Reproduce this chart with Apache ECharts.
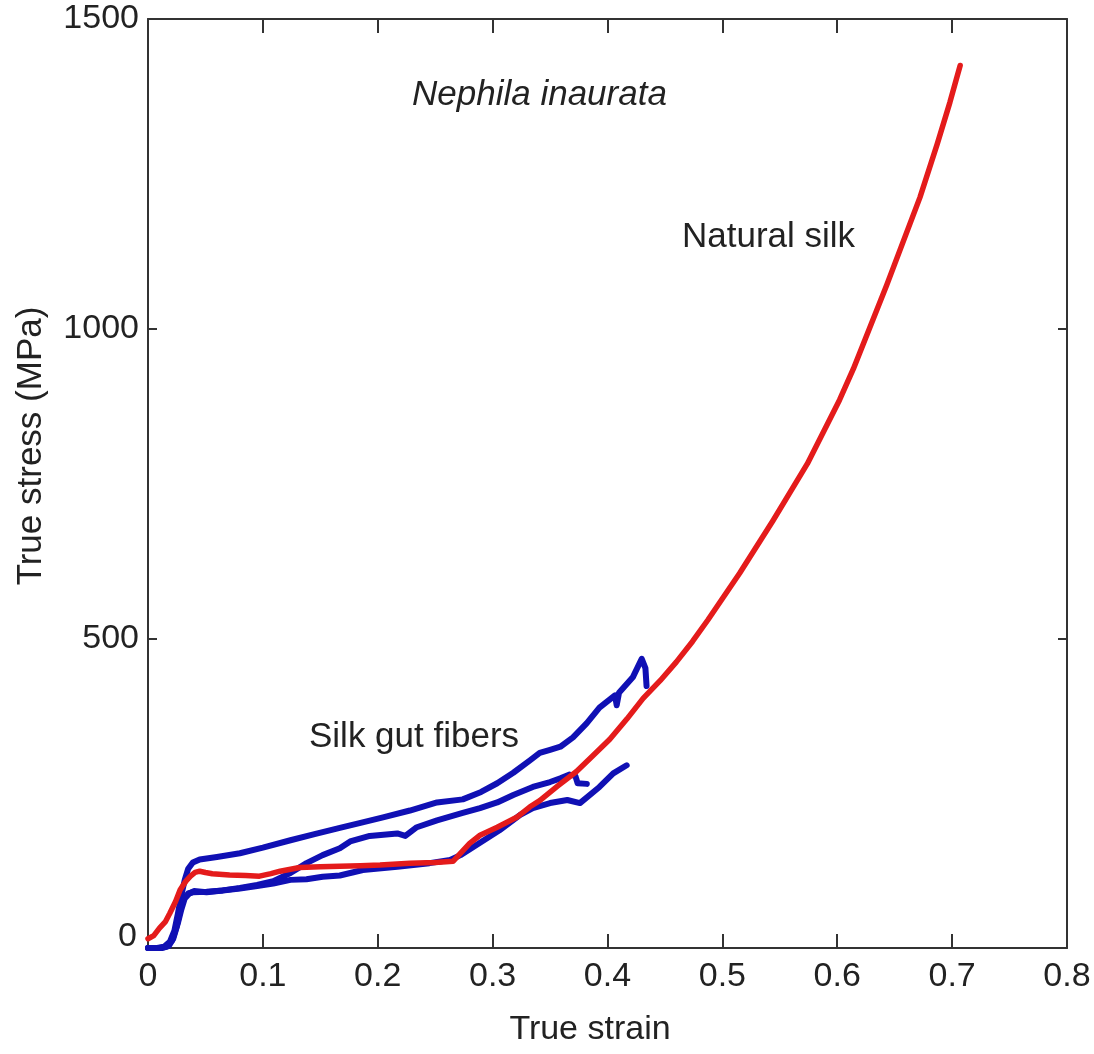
<!DOCTYPE html>
<html>
<head>
<meta charset="utf-8">
<title>True stress vs true strain – Nephila inaurata</title>
<script src="https://cdn.jsdelivr.net/npm/echarts@6/dist/echarts.min.js"></script>
<style>
  html, body { margin: 0; padding: 0; background: #ffffff; }
  #chart { width: 1094px; height: 1054px; }
</style>
</head>
<body>
<div id="chart"></div>
<script>
// Axis ticks
const strainTicks = [0, 0.1, 0.2, 0.3, 0.4, 0.5, 0.6, 0.7, 0.8];
const stressTicks = [0, 500, 1000, 1500];

// Natural (spun) silk: [true strain, true stress in MPa]
const naturalSilk = [
  [0, 15], [0.005, 20], [0.01, 32], [0.015, 42], [0.019, 56], [0.024, 75],
  [0.028, 94], [0.033, 108], [0.037, 116], [0.041, 122], [0.045, 124],
  [0.05, 122], [0.056, 120], [0.071, 118], [0.085, 117], [0.097, 116],
  [0.107, 120], [0.115, 124], [0.132, 130], [0.15, 131], [0.167, 132],
  [0.185, 133], [0.202, 134], [0.228, 137], [0.25, 138], [0.2655, 140],
  [0.28, 169], [0.289, 182], [0.304, 195], [0.321, 211], [0.3325, 228],
  [0.341, 238], [0.357, 262], [0.373, 285], [0.387, 310], [0.402, 337],
  [0.417, 370], [0.431, 403], [0.446, 432], [0.46, 462], [0.474, 495],
  [0.4875, 530], [0.515, 605], [0.544, 690], [0.574, 782], [0.602, 885],
  [0.614, 935], [0.643, 1070], [0.672, 1212], [0.687, 1298], [0.698, 1365],
  [0.707, 1425]
];

// Silk gut fibers, three specimens: [true strain, true stress in MPa]
const gutFiberA = [
  [0, 0], [0.008, 0], [0.014, 2], [0.019, 10], [0.023, 28], [0.026, 55],
  [0.029, 85], [0.032, 110], [0.035, 128], [0.039, 138], [0.045, 143],
  [0.06, 147], [0.08, 153], [0.1, 162], [0.124, 174], [0.145, 184],
  [0.167, 194], [0.185, 202], [0.2046, 211], [0.228, 222], [0.2516, 235],
  [0.274, 240], [0.29, 252], [0.304, 266], [0.318, 283], [0.3325, 303],
  [0.341, 315], [0.35, 320], [0.359, 325], [0.37, 340], [0.382, 363],
  [0.393, 388], [0.4065, 408], [0.408, 392], [0.41, 412], [0.422, 437],
  [0.4298, 467], [0.433, 452], [0.434, 423]
];

const gutFiberB = [
  [0, 0], [0.01, 0], [0.016, 2], [0.021, 12], [0.025, 35], [0.028, 60],
  [0.031, 80], [0.035, 88], [0.039, 90], [0.051, 91], [0.065, 93],
  [0.08, 97], [0.095, 102], [0.109, 108], [0.124, 121], [0.138, 137],
  [0.152, 150], [0.167, 161], [0.176, 172], [0.193, 181], [0.217, 185],
  [0.224, 181], [0.234, 195], [0.2516, 206], [0.274, 218], [0.289, 226],
  [0.304, 235], [0.318, 247], [0.335, 260], [0.35, 268], [0.359, 274],
  [0.367, 280], [0.372, 278], [0.374, 266], [0.382, 265]
];

const gutFiberC = [
  [0, 0], [0.012, 0], [0.018, 3], [0.022, 15], [0.026, 40], [0.029, 62],
  [0.032, 80], [0.036, 88], [0.04, 92], [0.051, 90], [0.065, 93],
  [0.08, 96], [0.095, 100], [0.109, 104], [0.124, 110], [0.138, 111],
  [0.152, 115], [0.167, 117], [0.187, 126], [0.217, 131], [0.245, 137],
  [0.263, 142], [0.272, 150], [0.289, 170], [0.306, 190], [0.324, 215],
  [0.335, 226], [0.35, 234], [0.365, 239], [0.376, 234], [0.393, 260],
  [0.405, 282], [0.4167, 295]
];

const FONT = '"Liberation Sans", Arial, Helvetica, sans-serif';
const INK = '#222222';
const BLUE = '#1010b4';
const RED = '#e41b1b';

const chart = echarts.init(document.getElementById('chart'), null, { renderer: 'canvas' });

const frameLine = { show: true, onZero: false, lineStyle: { color: '#333333', width: 2 } };

function curve(name, data, color, width, z) {
  return {
    name: name,
    type: 'line',
    data: data,
    showSymbol: false,
    symbol: 'none',
    smooth: false,
    z: z,
    lineStyle: { color: color, width: width, cap: 'round', join: 'round' },
    emphasis: { disabled: true },
    animation: false
  };
}

chart.setOption({
  backgroundColor: '#ffffff',
  animation: false,
  grid: { left: 148, right: 27, top: 19, bottom: 106, containLabel: false },
  xAxis: [
    {
      type: 'value', position: 'bottom',
      min: strainTicks[0], max: strainTicks[strainTicks.length - 1], interval: 0.1,
      axisLine: frameLine,
      axisTick: { show: true, inside: true, length: 14, lineStyle: { color: '#333333', width: 2 } },
      axisLabel: {
        show: true, margin: 12, color: INK, fontSize: 34, fontFamily: FONT,
        formatter: v => (Math.abs(v) < 1e-9 ? '0' : String(Math.round(v * 10) / 10))
      },
      splitLine: { show: false }
    },
    {
      type: 'value', position: 'top',
      min: strainTicks[0], max: strainTicks[strainTicks.length - 1], interval: 0.1,
      axisLine: frameLine,
      axisTick: { show: true, inside: true, length: 14, lineStyle: { color: '#333333', width: 2 } },
      axisLabel: { show: false },
      splitLine: { show: false }
    }
  ],
  yAxis: [
    {
      type: 'value', position: 'left',
      min: stressTicks[0], max: stressTicks[stressTicks.length - 1], interval: 500,
      axisLine: frameLine,
      axisTick: { show: true, inside: true, length: 9, lineStyle: { color: '#333333', width: 2 } },
      axisLabel: {
        show: true, margin: 9, color: INK, fontSize: 34, fontFamily: FONT,
        // the zero label sits a little above the corner so it clears the strain "0"
        formatter: v => (v === 0 ? '{zero|0}' : String(v)),
        rich: { zero: { fontSize: 34, fontFamily: FONT, color: INK, padding: [0, 2, 22, 0] } }
      },
      splitLine: { show: false }
    },
    {
      type: 'value', position: 'right',
      min: stressTicks[0], max: stressTicks[stressTicks.length - 1], interval: 500,
      axisLine: frameLine,
      axisTick: { show: true, inside: true, length: 9, lineStyle: { color: '#333333', width: 2 } },
      axisLabel: { show: false },
      splitLine: { show: false }
    }
  ],
  series: [
    curve('Silk gut fiber 1', gutFiberA, BLUE, 6, 2),
    curve('Silk gut fiber 2', gutFiberB, BLUE, 6, 2),
    curve('Silk gut fiber 3', gutFiberC, BLUE, 6, 2),
    curve('Natural silk', naturalSilk, RED, 5.5, 3)
  ],
  graphic: [
    {
      type: 'text', left: 412, top: 78,
      style: { text: 'Nephila inaurata', fontSize: 35, fontStyle: 'italic', fontFamily: FONT, fill: INK }
    },
    {
      type: 'text', left: 682, top: 220,
      style: { text: 'Natural silk', fontSize: 35, fontFamily: FONT, fill: INK }
    },
    {
      type: 'text', left: 309, top: 720,
      style: { text: 'Silk gut fibers', fontSize: 35, fontFamily: FONT, fill: INK }
    },
    {
      type: 'text', x: 590, y: 1030,
      style: { text: 'True strain', fontSize: 34, fontFamily: FONT, fill: INK, align: 'center', verticalAlign: 'middle' }
    },
    {
      type: 'text', x: 31, y: 446, rotation: Math.PI / 2,
      style: { text: 'True stress (MPa)', fontSize: 35, fontFamily: FONT, fill: INK, align: 'center', verticalAlign: 'middle' }
    }
  ]
});
</script>
</body>
</html>
